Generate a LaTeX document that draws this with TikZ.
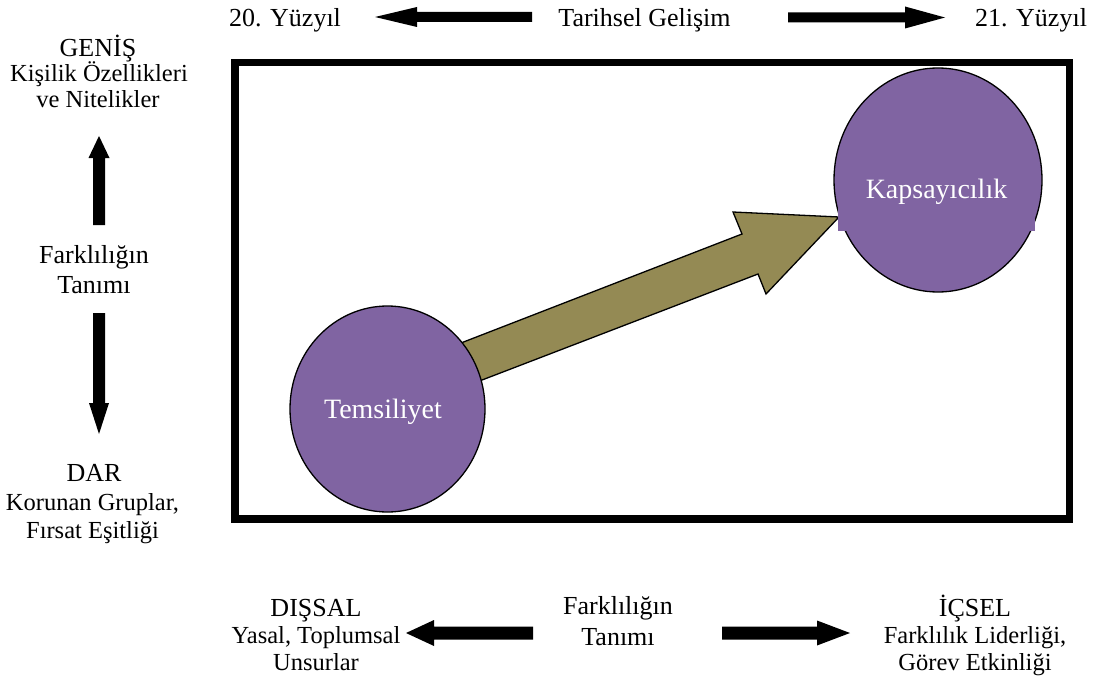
\documentclass[tikz,border=0pt]{standalone}
\usepackage{fontspec}
\setmainfont{Liberation Serif}
\usetikzlibrary{shapes.geometric}
\definecolor{bubblepurple}{HTML}{8064A2}
\definecolor{arrowolive}{HTML}{948A54}
\begin{document}
\begin{tikzpicture}[x=1pt,y=-1pt,
  lbl/.style={font=\fontsize{26}{30}\selectfont, inner sep=0pt, anchor=base},
  sub/.style={font=\fontsize{24.5}{27}\selectfont, inner sep=0pt, anchor=base},
  intext/.style={font=\fontsize{28}{32}\selectfont, text=white, inner sep=0pt},
  bubble/.style={ellipse, draw=black, line width=1.3pt, fill=bubblepurple, inner sep=0pt},
  blockarrow/.style={fill=black},
  frame/.style={draw=black, line width=7.5pt}
]
\useasboundingbox (0,0) rectangle (1097,682);

% top row: historical development
\node[lbl] (c20) at (285,27) {20. Yüzyıl};
\node[lbl] (dev) at (644.5,27) {Tarihsel Gelişim};
\node[lbl] (c21) at (1031,27) {21. Yüzyıl};
\fill[blockarrow] (532,12) -- (417,12) -- (417,7) -- (375,17) -- (417,27) -- (417,22) -- (532,22) -- cycle;
\fill[blockarrow] (788,12.5) -- (905,12.5) -- (905,6.5) -- (945,17.5) -- (905,28.5) -- (905,22.5) -- (788,22.5) -- cycle;

% left column: broad vs narrow definition
\node[lbl] (wide) at (98,57) {GENİŞ};
\node[sub] (wide1) at (99,82) {Kişilik Özellikleri};
\node[sub] (wide2) at (98,108) {ve Nitelikler};
\node[lbl] (def1) at (94,263) {Farklılığın};
\node[lbl] (def1b) at (94,293) {Tanımı};
\node[lbl] (narrow) at (94,481) {DAR};
\node[sub] (narrow1) at (92.5,510) {Korunan Gruplar,};
\node[sub] (narrow2) at (92.5,538) {Fırsat Eşitliği};
\fill[blockarrow] (93,225) -- (93,158) -- (88.5,158) -- (99,136) -- (109.5,158) -- (105,158) -- (105,225) -- cycle;
\fill[blockarrow] (93,313) -- (93,403) -- (89,403) -- (99,434) -- (109,403) -- (105,403) -- (105,313) -- cycle;

% bottom row: external vs internal definition
\node[lbl] (ext) at (316,616) {DIŞSAL};
\node[sub] (ext1) at (316,643) {Yasal, Toplumsal};
\node[sub] (ext2) at (316,670) {Unsurlar};
\node[lbl] (def2) at (618,614) {Farklılığın};
\node[lbl] (def2b) at (618,645) {Tanımı};
\node[lbl] (int) at (975,616) {İÇSEL};
\node[sub] (int1) at (975,643) {Farklılık Liderliği,};
\node[sub] (int2) at (975,670) {Görev Etkinliği};
\fill[blockarrow] (533,626.5) -- (434,626.5) -- (434,620) -- (406,633) -- (434,646) -- (434,639.5) -- (533,639.5) -- cycle;
\fill[blockarrow] (722,626.5) -- (817,626.5) -- (817,620.5) -- (850,633) -- (817,645.5) -- (817,639.5) -- (722,639.5) -- cycle;

% frame
\draw[frame] (235,62.5) rectangle (1069.5,519);

% transition arrow
\filldraw[fill=arrowolive, draw=black, line width=1.3pt, line join=miter]
  (430,355) -- (742,234) -- (733,212) -- (839,217) -- (766,294) -- (758,274) -- (430,400) -- cycle;

% bubbles
\node[bubble, minimum width=195pt, minimum height=206pt] (rep) at (387.5,409) {};
\node[intext, anchor=base] (reptext) at (383,418) {Temsiliyet};
\node[bubble, minimum width=208pt, minimum height=224pt] (inc) at (938,180) {};
\node[intext, fill=bubblepurple, minimum width=197pt, minimum height=78pt] (inctext) at (936.5,192) {Kapsayıcılık};
\end{tikzpicture}
\end{document}
